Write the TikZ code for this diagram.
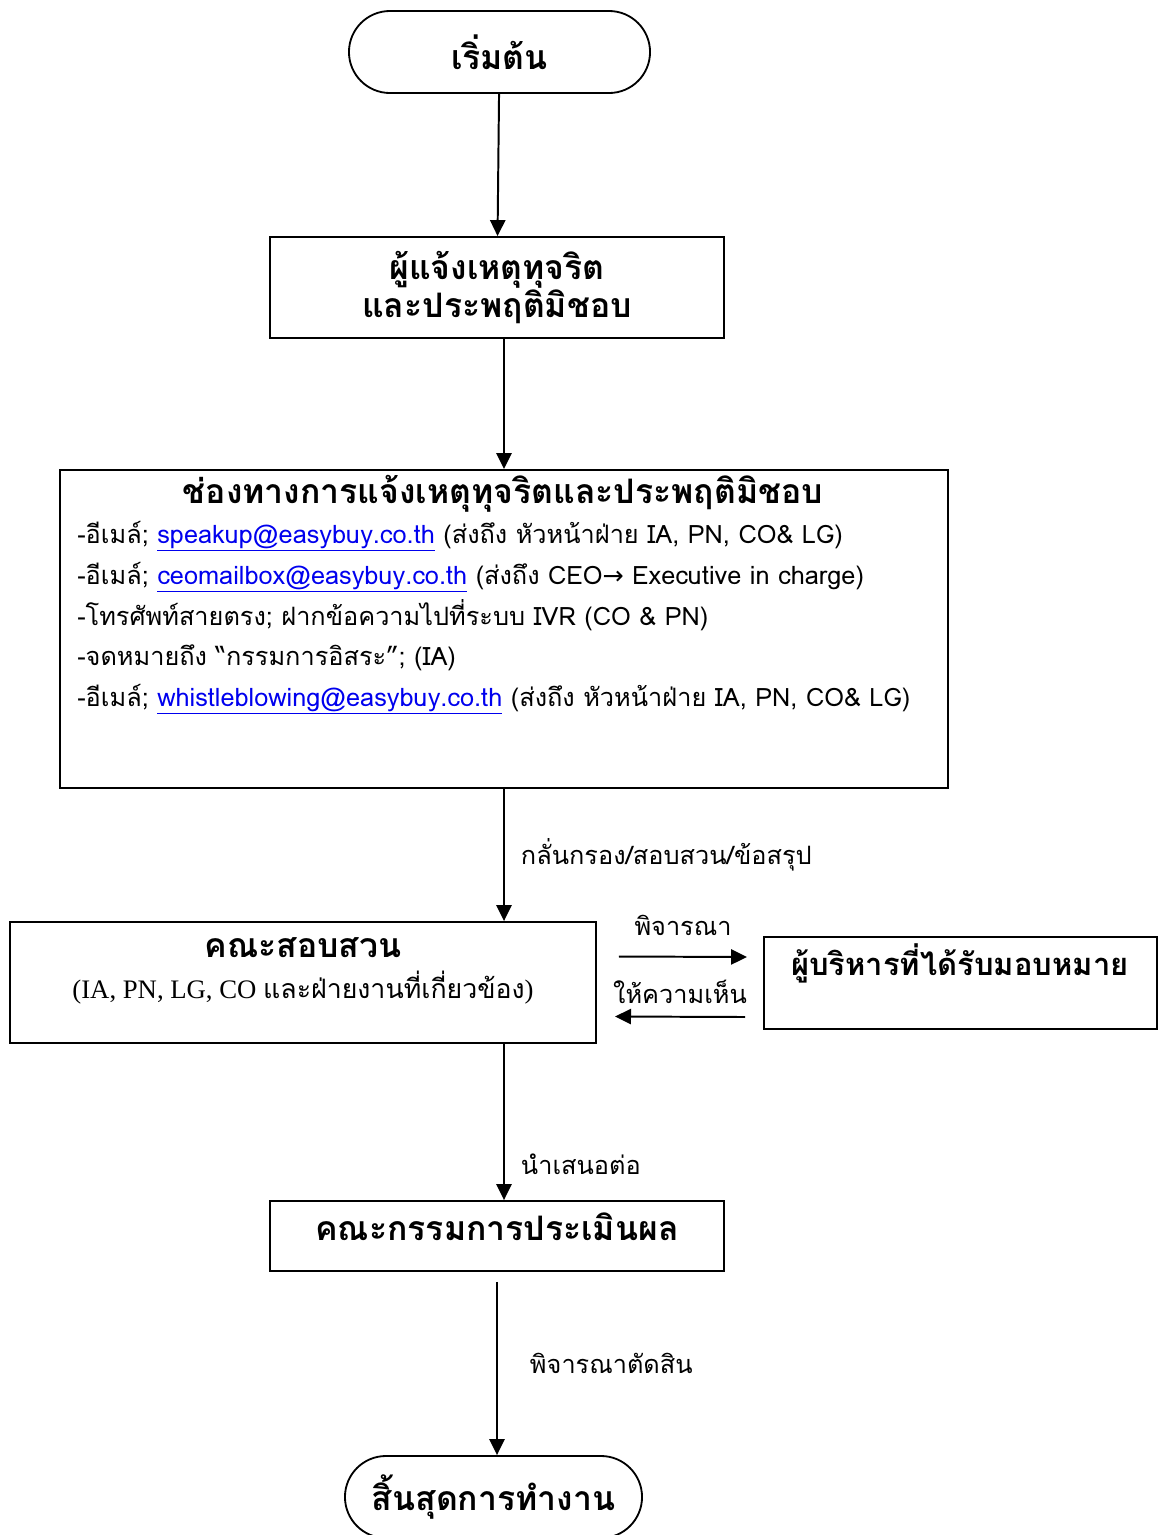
\documentclass[tikz,border=0pt]{standalone}
\usepackage{fontspec}
\setmainfont{Liberation Serif}
\newfontfamily\thai[Script=Thai]{Loma}
\newfontfamily\sym{DejaVu Sans}
\usetikzlibrary{arrows.meta,positioning,calc,shapes.misc}
\definecolor{ink}{RGB}{0,0,0}
\definecolor{lnk}{RGB}{0,0,238}
\tikzset{
  box/.style={draw=ink,line width=1.3pt,inner sep=0pt,align=center},
  term/.style={box,rounded rectangle},
  ar/.style={-{Triangle[length=4mm,width=3.8mm]},line width=1.4pt},
  head/.style={font=\thai\bfseries\fontsize{24}{27}\selectfont,inner sep=0pt,align=center},
  line/.style={font=\thai\fontsize{18}{20}\selectfont,inner sep=0pt,anchor=base west},
  tag/.style={font=\thai\fontsize{18}{20}\selectfont,inner sep=0pt},
}
\newcommand{\mail}[1]{\textcolor{lnk}{\underline{#1}}}

\begin{document}
\begin{tikzpicture}[x=0.025cm,y=-0.025cm]
  \useasboundingbox (0,0) rectangle (1163,1535);

  % main column
  \node[term,head,minimum width=7.525cm,minimum height=2.05cm] (start) at (499.5,52) {เริ่มต้น};
  \node[box,head,minimum width=11.35cm,minimum height=2.525cm] (rep) at (497,287.5)
     {ผู้แจ้งเหตุทุจริต\\และประพฤติมิชอบ};
  \node[box,minimum width=22.2cm,minimum height=7.95cm] (chan) at (504,629) {};
  \node[head] (chant) at (503,494) {ช่องทางการแจ้งเหตุทุจริตและประพฤติมิชอบ};
  \node[line] (ch1) at (77,543) {-อีเมล์; \mail{speakup@easybuy.co.th} (ส่งถึง หัวหน้าฝ่าย IA, PN, CO\& LG)};
  \node[line] (ch2) at (77,584) {-อีเมล์; \mail{ceomailbox@easybuy.co.th} (ส่งถึง CEO{\sym→} Executive in charge)};
  \node[line] (ch3) at (77,625) {-โทรศัพท์สายตรง; ฝากข้อความไปที่ระบบ IVR (CO \& PN)};
  \node[line] (ch4) at (77,665) {-จดหมายถึง “กรรมการอิสระ”; (IA)};
  \node[line] (ch5) at (77,706) {-อีเมล์; \mail{whistleblowing@easybuy.co.th} (ส่งถึง หัวหน้าฝ่าย IA, PN, CO\& LG)};

  % investigation and assigned executive
  \node[box,minimum width=14.65cm,minimum height=3.025cm] (inv) at (303,982.5) {};
  \node[head] (invt) at (303,948) {คณะสอบสวน};
  \node[tag,font=\fontsize{19}{22}\selectfont] (invs) at (303,988) {(IA, PN, LG, CO {\thai และฝ่ายงานที่เกี่ยวข้อง})};
  \node[box,minimum width=9.825cm,minimum height=2.3cm] (exe) at (960.5,983) {};
  \node[head,font=\thai\bfseries\fontsize{22}{26}\selectfont] (exet) at (960,963) {ผู้บริหารที่ได้รับมอบหมาย};

  \node[box,minimum width=11.35cm,minimum height=1.75cm] (eval) at (497,1236) {};
  \node[head] (evalt) at (497,1227) {คณะกรรมการประเมินผล};
  \node[term,head,minimum width=7.425cm,minimum height=2.05cm] (stop) at (493.5,1497) {สิ้นสุดการทำงาน};

  % connectors
  \draw[ar] (start) -- (rep);
  \draw[ar] (rep.south -| chan.south) -- (chan.north);
  \draw[ar] (chan.south) -- node[tag,right=4mm]{กลั่นกรอง/สอบสวน/ข้อสรุป} (chan.south |- inv.north);
  \draw[ar] ($(inv.east)+(22,-26)$) -- node[tag,above=5mm]{พิจารณา} ($(exe.west)+(-16,-26)$);
  \draw[ar] ($(exe.west)+(-18,34)$) -- node[tag,above=3mm]{ให้ความเห็น} ($(inv.east)+(18,34)$);
  \draw[ar] (chan.south |- inv.south) -- node[tag,right=4mm,pos=0.77]{นำเสนอต่อ} (chan.south |- eval.north);
  \draw[ar,shorten <=0.25cm] (eval.south) -- node[tag,right=8mm]{พิจารณาตัดสิน} (eval.south |- stop.north);
\end{tikzpicture}
\end{document}
